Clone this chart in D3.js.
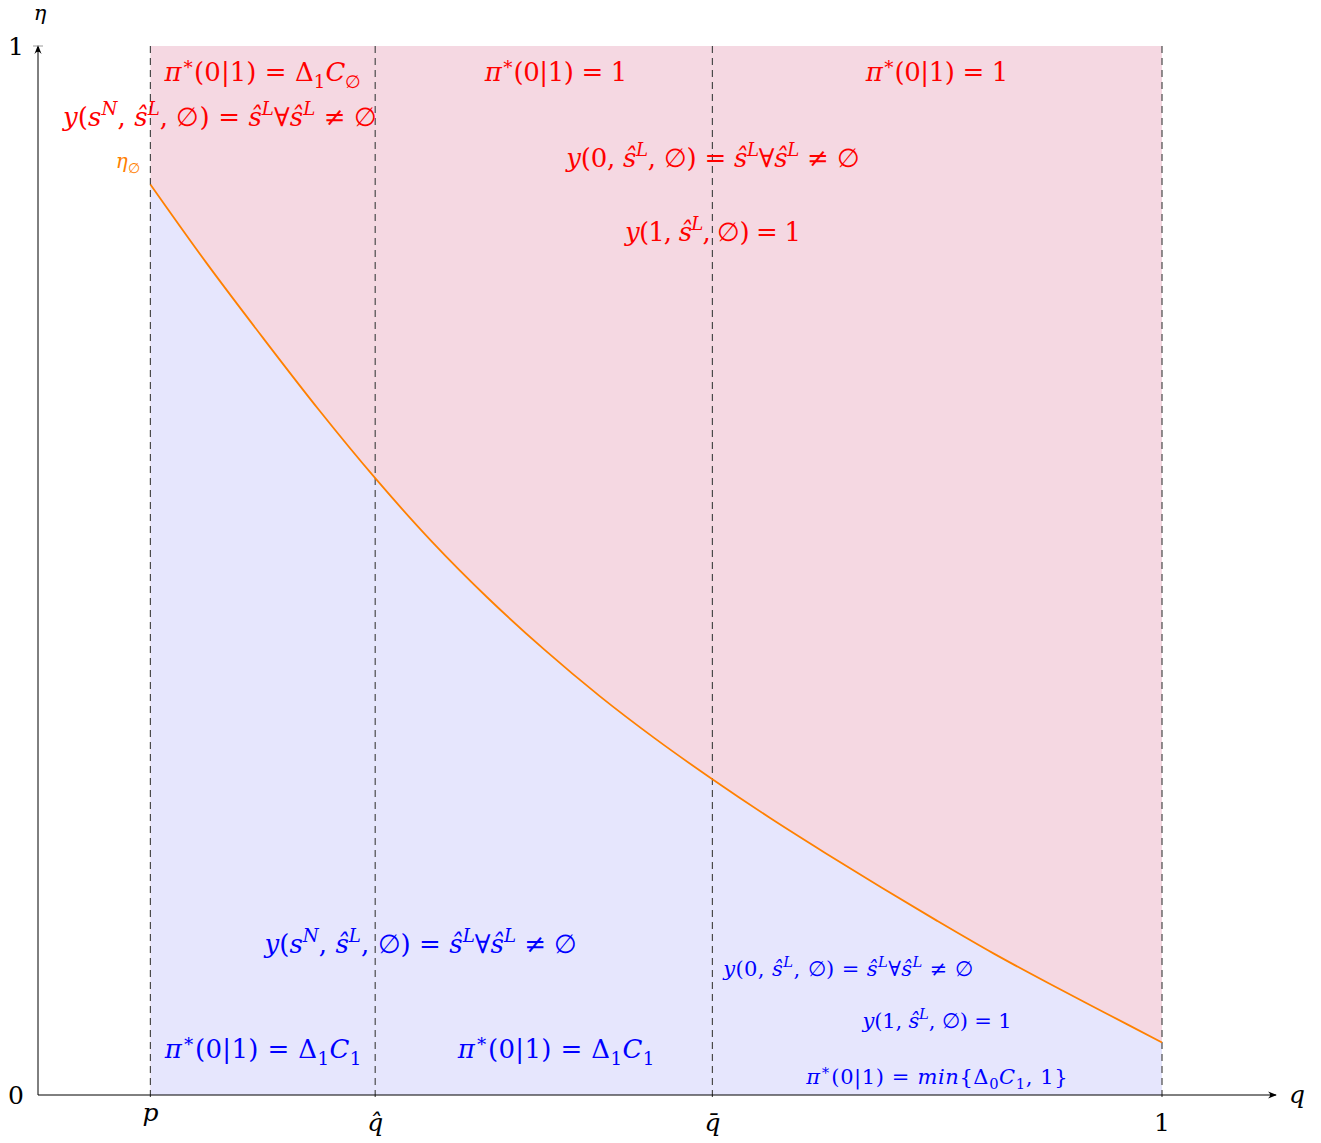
<!DOCTYPE html>
<html>
<head>
<meta charset="utf-8">
<script src="https://cdn.jsdelivr.net/npm/d3@7"></script>
<style>
  body { margin: 0; background: #fff; }
  svg text { font-family: "DejaVu Serif", "Liberation Serif", serif; }
</style>
</head>
<body>
<svg id="chart" width="1321" height="1143"></svg>
<script>
// ---- data ----
const qValues   = [0.1, 0.15, 0.2, 0.25, 0.3, 0.35, 0.4, 0.45, 0.5, 0.55, 0.6, 0.65, 0.7, 0.75, 0.8, 0.85, 0.9, 0.95, 1.0];
const etaValues = [0.868, 0.793, 0.722, 0.653, 0.588, 0.528, 0.474, 0.425, 0.380, 0.339, 0.301, 0.265, 0.231, 0.198, 0.166, 0.135, 0.106, 0.078, 0.05];
const thresholds = [0.1, 0.3, 0.6, 1.0];
const thresholdLabels = ["p", "q̂", "q̄", "1"];
const yTickValues = [0, 1];

// ---- scales ----
const svg = d3.select("#chart");
const x = d3.scaleLinear().domain([0, 1]).range([38, 1162]);
const y = d3.scaleLinear().domain([0, 1]).range([1095, 46]);
const pink = "#f5d8e2", blue = "#e6e6fd", orange = "#ff8000";

const curve = qValues.map((q, i) => [q, etaValues[i]]);

// pink region (above curve)
svg.append("rect")
  .attr("x", x(thresholds[0])).attr("y", y(1))
  .attr("width", x(1) - x(thresholds[0])).attr("height", y(0) - y(1))
  .attr("fill", pink);

// blue region (below curve)
svg.append("path")
  .datum(curve)
  .attr("d", d3.area().x(d => x(d[0])).y0(y(0)).y1(d => y(d[1])).curve(d3.curveCatmullRom))
  .attr("fill", blue);

// dashed thresholds
svg.selectAll("line.th").data(thresholds).enter().append("line")
  .attr("x1", d => x(d)).attr("x2", d => x(d))
  .attr("y1", y(1)).attr("y2", y(0) + 7)
  .attr("stroke", "#4a4a4a").attr("stroke-width", 1.2)
  .attr("stroke-dasharray", "7,5");

// curve
svg.append("path")
  .datum(curve)
  .attr("d", d3.line().x(d => x(d[0])).y(d => y(d[1])).curve(d3.curveCatmullRom))
  .attr("fill", "none").attr("stroke", orange).attr("stroke-width", 1.8);

// axes with arrows
const defs = svg.append("defs");
defs.append("marker").attr("id", "arr").attr("viewBox", "0 0 10 10")
  .attr("refX", 9).attr("refY", 5).attr("markerWidth", 9).attr("markerHeight", 9)
  .attr("orient", "auto-start-reverse").attr("markerUnits", "userSpaceOnUse")
  .append("path").attr("d", "M0,1 Q5,5 0,9 L10,5 Z").attr("fill", "#000");

svg.append("line").attr("x1", x(0)).attr("y1", y(0)).attr("x2", 1276).attr("y2", y(0))
  .attr("stroke", "#000").attr("stroke-width", 1).attr("marker-end", "url(#arr)");
svg.append("line").attr("x1", x(0)).attr("y1", y(0)).attr("x2", x(0)).attr("y2", y(1))
  .attr("stroke", "#000").attr("stroke-width", 1).attr("marker-end", "url(#arr)");

// y tick (at 1)
svg.append("line").attr("x1", x(0) - 5).attr("x2", x(0) + 5).attr("y1", y(1)).attr("y2", y(1))
  .attr("stroke", "#999").attr("stroke-width", 1);

// y tick labels
svg.selectAll("text.yt").data(yTickValues).enter().append("text")
  .attr("x", 16).attr("y", d => y(d) + 9)
  .attr("text-anchor", "middle").attr("font-size", 25)
  .text(d => d);

// axis names
svg.append("text").attr("x", 40).attr("y", 20).attr("text-anchor", "middle")
  .attr("font-size", 21).attr("font-style", "italic").text("η");
svg.append("text").attr("x", 1297).attr("y", 1103).attr("text-anchor", "middle")
  .attr("font-size", 25).attr("font-style", "italic").text("q");

// x tick labels
svg.selectAll("text.xt").data(thresholds).enter().append("text")
  .attr("x", d => x(d)).attr("y", (d, i) => i === 0 ? 1121 : 1131)
  .attr("text-anchor", "middle").attr("font-size", 25)
  .attr("font-style", (d, i) => i === 3 ? "normal" : "italic")
  .text((d, i) => thresholdLabels[i]);

// ---- rich text helper ----
// parts: [text, kind] kind: r roman, i italic, sup/supi superscript, sub/subi subscript
function rich(cx, cy, size, color, width, parts) {
  const t = svg.append("text").attr("x", cx).attr("y", cy)
    .attr("text-anchor", "middle").attr("font-size", size).attr("fill", color);
  let shift = 0, nchar = 0;
  parts.forEach(([s, k]) => {
    const sp = t.append("tspan").text(s);
    let target = 0, fs = size;
    if (k.startsWith("sup")) { target = -0.42 * size; fs = size * 0.7; }
    if (k.startsWith("sub")) { target = 0.25 * size; fs = size * 0.7; }
    sp.attr("dy", target - shift).attr("font-size", fs);
    shift = target;
    nchar += [...s].length;
    if (k === "i" || k === "supi" || k === "subi") sp.attr("font-style", "italic");
  });
  // spread glyphs so the label spans the same width as in the reference
  const len = t.node().getComputedTextLength();
  if (width && nchar > 1) {
    const ls = (width - len) / nchar;
    t.attr("letter-spacing", ls).attr("x", cx + ls / 2);
  }
  return t;
}

const red = "#ff0000", bl = "#0000ff";
const S = 26, s = 21;
const piPart = [["π", "i"], ["∗", "sup"], ["(0|1) = ", "r"]];
const ySN = [["y", "i"], ["(", "r"], ["s", "i"], ["N", "supi"], [", ", "r"], ["ŝ", "i"], ["L", "supi"], [", ∅) = ", "r"], ["ŝ", "i"], ["L", "supi"], ["∀", "r"], ["ŝ", "i"], ["L", "supi"], [" ≠ ∅", "r"]];
const y0 = [["y", "i"], ["(0, ", "r"], ["ŝ", "i"], ["L", "supi"], [", ∅) = ", "r"], ["ŝ", "i"], ["L", "supi"], ["∀", "r"], ["ŝ", "i"], ["L", "supi"], [" ≠ ∅", "r"]];
const y1 = [["y", "i"], ["(1, ", "r"], ["ŝ", "i"], ["L", "supi"], [", ∅) = 1", "r"]];

// red labels
rich(263, 81, S, red, 197, [...piPart, ["Δ", "r"], ["1", "sub"], ["C", "i"], ["∅", "sub"]]);
rich(220, 126, S, red, 314, ySN);
rich(556, 81, S, red, 142, [...piPart, ["1", "r"]]);
rich(937, 81, S, red, 142, [...piPart, ["1", "r"]]);
rich(713, 167, S, red, 293, y0);
rich(713, 241, S, red, 175, y1);

// eta label
rich(128, 168, 20, orange, 25, [["η", "i"], ["∅", "sub"]]);

// blue labels
rich(421, 953, S, bl, 313, ySN);
rich(263, 1058, S, bl, 197, [...piPart, ["Δ", "r"], ["1", "sub"], ["C", "i"], ["1", "sub"]]);
rich(556, 1058, S, bl, 197, [...piPart, ["Δ", "r"], ["1", "sub"], ["C", "i"], ["1", "sub"]]);
rich(848, 976, s, bl, 250, y0);
rich(937, 1028, s, bl, 149, y1);
rich(937, 1084, s, bl, 262, [["π", "i"], ["∗", "sup"], ["(0|1) = ", "r"], ["min", "i"], ["{Δ", "r"], ["0", "sub"], ["C", "i"], ["1", "sub"], [", 1}", "r"]]);
</script>
</body>
</html>
